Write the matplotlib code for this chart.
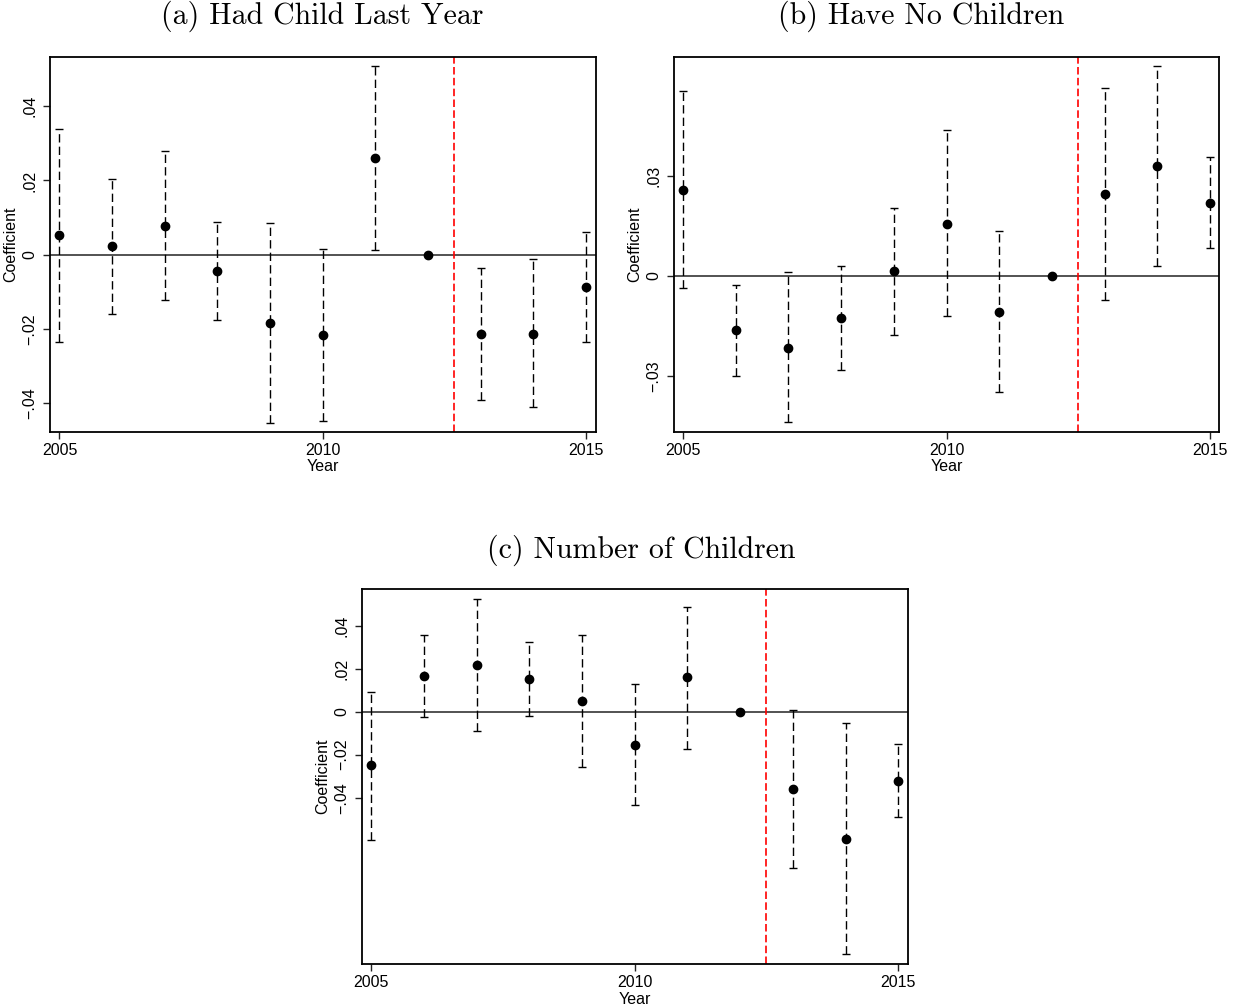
import numpy as np
import matplotlib.pyplot as plt
from matplotlib.ticker import FuncFormatter

plt.rcParams['font.family'] = ['Liberation Sans', 'DejaVu Sans']

years = np.arange(2005, 2016)
cutoff = 2012.5

# (a) Had Child Last Year
coef_a = [0.0052, 0.0022, 0.0078, -0.0044, -0.0184, -0.0217, 0.0261, 0.0, -0.0213, -0.0213, -0.0087]
lo_a = [-0.0236, -0.0159, -0.0123, -0.0175, -0.0453, -0.0448, 0.0013, np.nan, -0.0391, -0.0412, -0.0236]
hi_a = [0.0340, 0.0204, 0.0280, 0.0088, 0.0086, 0.0015, 0.0509, np.nan, -0.0036, -0.0013, 0.0062]
ticks_a = [-0.04, -0.02, 0, 0.02, 0.04]

# (b) Have No Children
coef_b = [0.0258, -0.0163, -0.0215, -0.0126, 0.0014, 0.0157, -0.0108, 0.0, 0.0246, 0.0329, 0.0219]
lo_b = [-0.0037, -0.0299, -0.0439, -0.0281, -0.0177, -0.0121, -0.0349, np.nan, -0.0071, 0.0030, 0.0083]
hi_b = [0.0555, -0.0026, 0.0011, 0.0030, 0.0204, 0.0437, 0.0135, np.nan, 0.0564, 0.0630, 0.0356]
ticks_b = [-0.03, 0, 0.03]

# (c) Number of Children
coef_c = [-0.0250, 0.0167, 0.0218, 0.0153, 0.0049, -0.0153, 0.0161, 0.0, -0.0360, -0.0591, -0.0321]
lo_c = [-0.0595, -0.0025, -0.0088, -0.0019, -0.0256, -0.0434, -0.0171, np.nan, -0.0727, -0.1127, -0.0491]
hi_c = [0.0093, 0.0360, 0.0525, 0.0324, 0.0357, 0.0130, 0.0490, np.nan, 0.0009, -0.0053, -0.0148]
ticks_c = [-0.04, -0.02, 0, 0.02, 0.04]


def stata_fmt(v, _):
    if abs(v) < 1e-12:
        return '0'
    s = f'{abs(v):.2f}'.lstrip('0')
    return ('\u2212' if v < 0 else '') + s


def panel(ax, coef, lo, hi, yticks, ylim, xlim):
    coef = np.array(coef)
    lo = np.array(lo)
    hi = np.array(hi)
    ax.axhline(0, color='#444444', lw=1.3, zorder=1)
    ax.axvline(cutoff, color='red', lw=1.2, ls=(0, (4.5, 2)), zorder=2)
    eb = ax.errorbar(years, coef, yerr=[coef - lo, hi - coef], fmt='none',
                     ecolor='black', elinewidth=1.0, capsize=3, capthick=1.0, zorder=3)
    eb[2][0].set_linestyle((0, (6, 3)))
    ax.plot(years, coef, 'o', color='black', ms=6, zorder=4)
    ax.set_xlim(*xlim)
    ax.set_ylim(*ylim)
    ax.set_xticks([2005, 2010, 2015])
    ax.set_yticks(yticks)
    ax.yaxis.set_major_formatter(FuncFormatter(stata_fmt))
    ax.tick_params(axis='both', direction='out', length=5, width=1, labelsize=11.5, color='#222222')
    ax.tick_params(axis='y', labelrotation=90, pad=4)
    ax.tick_params(axis='x', pad=3)
    for lab in ax.get_yticklabels():
        lab.set_va('center')
    for sp in ax.spines.values():
        sp.set_linewidth(1.3)
    ax.set_xlabel('Year', fontsize=11.5, labelpad=1)
    ax.set_ylabel('Coefficient', fontsize=11.5, labelpad=3)


fig = plt.figure(figsize=(12.37, 10.06), dpi=100)
ax_a = fig.add_axes([0.0404, 0.5706, 0.4414, 0.3728])
ax_b = fig.add_axes([0.5449, 0.5706, 0.4406, 0.3728])
ax_c = fig.add_axes([0.2924, 0.0417, 0.4414, 0.3728])

panel(ax_a, coef_a, lo_a, hi_a, ticks_a, (-0.0478, 0.0533), (2004.82, 2015.19))
panel(ax_b, coef_b, lo_b, hi_b, ticks_b, (-0.0468, 0.0657), (2004.83, 2015.17))
panel(ax_c, coef_c, lo_c, hi_c, ticks_c, (-0.1175, 0.0572), (2004.82, 2015.18))

title_kw = dict(family='cmr10', fontsize=21.5, ha='center', va='center')
fig.text(322 / 1237, 1 - 16 / 1006, '(a) Had Child Last Year', **title_kw)
fig.text(921 / 1237, 1 - 16 / 1006, '(b) Have No Children', **title_kw)
fig.text(641 / 1237, 1 - 550 / 1006, '(c) Number of Children', **title_kw)

fig.savefig('out.png', dpi=100)
